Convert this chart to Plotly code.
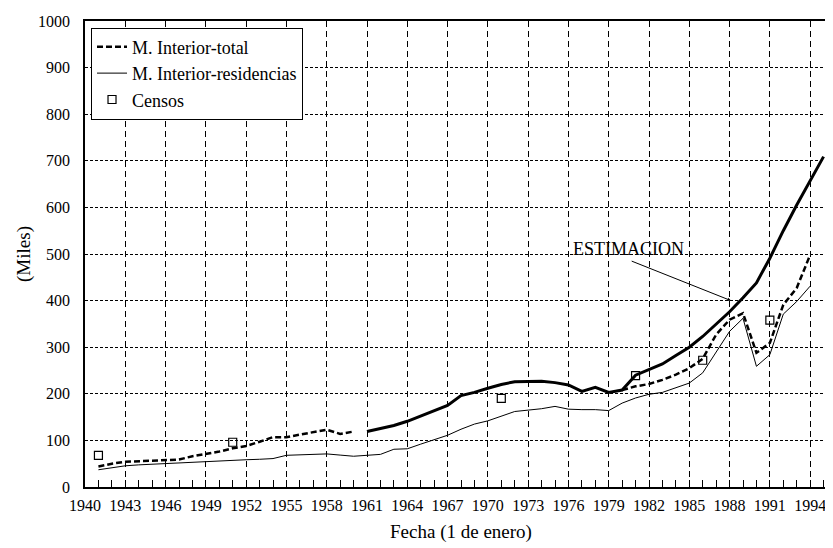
import plotly.graph_objects as go

# ---------------- data ----------------
years = list(range(1941, 1995))
total = [44, 50, 54, 55.5, 57, 57.5, 59, 66, 71, 76,
         83, 88, 97, 107, 107, 112, 117, 123, 114, 119,
         None, None, None, None, None, None, None, None, None, None,
         None, None, None, None, None, None, None, None, None,
         208, 216, 221, 230, 241, 255, 275, 327, 359, 373, 288,
         309, 391, 427, 498]
residencias = [37, 42, 45.5, 47.5, 49, 51, 52.5, 54, 55, 56.5,
               57.5, 58.5, 59.5, 61, 68, 69, 70, 71, 68.5, 66,
               68, 70, 81, 82, 92, 101, 111, 124, 135, 142,
               152, 162, 165, 168, 173, 167, 166, 166, 164, 180,
               191, 199, 203, 213, 223, 245, 290, 334, 362, 259,
               284, 371, 398, 431]
est_years = list(range(1961, 1996))
estimacion = [119, 126, 132, 141, 152, 164, 175, 196, 203, 212,
              220, 226, 227, 227, 224, 219, 205, 214, 203, 208,
              240, 252, 264, 282, 300, 323, 349, 376, 406, 438,
              491, 550, 605, 657, 709]
censo_years = [1941, 1951, 1971, 1981, 1986, 1991]
censos = [68, 96, 190, 239, 272, 358]

FONT = "Liberation Serif"

fig = go.Figure()
fig.add_trace(go.Scatter(x=years, y=total, mode="lines", name="M. Interior-total",
                         line=dict(color="black", width=2.5, dash="6px,3px"),
                         connectgaps=False))
fig.add_trace(go.Scatter(x=years, y=residencias, mode="lines", name="M. Interior-residencias",
                         line=dict(color="black", width=1)))
fig.add_trace(go.Scatter(x=censo_years, y=censos, mode="markers", name="Censos",
                         marker=dict(symbol="square-open", size=8, color="black",
                                     line=dict(width=1.2, color="black"))))
fig.add_trace(go.Scatter(x=est_years, y=estimacion, mode="lines", name="Estimación",
                         showlegend=False, line=dict(color="black", width=3)))

fig.add_annotation(x=1980.5, y=511, xref="x", yref="y", text="ESTIMACION",
                   showarrow=False, font=dict(family=FONT, size=18, color="black"))
fig.add_annotation(x=1988.1, y=400, ax=1980.6, ay=486, xref="x", yref="y",
                   axref="x", ayref="y", text="", showarrow=True,
                   arrowhead=2, arrowsize=0.7, arrowwidth=1, arrowcolor="black")

fig.update_layout(
    width=833, height=548,
    margin=dict(l=77, r=2, t=13, b=69),
    plot_bgcolor="white", paper_bgcolor="white",
    font=dict(family=FONT, size=16, color="black"),
    showlegend=True,
    legend=dict(x=0.008, y=0.986, xanchor="left", yanchor="top",
                bgcolor="white", bordercolor="black", borderwidth=1,
                font=dict(family=FONT, size=18, color="black"),
                tracegroupgap=0, itemwidth=30),
)
fig.update_xaxes(range=[1940, 1996], tick0=1940, dtick=3,
                 ticks="inside", ticklen=7, tickcolor="black", tickwidth=1,
                 showgrid=True, gridcolor="black", gridwidth=1, griddash="6px,4px",
                 showline=True, linecolor="black", linewidth=1.5, mirror=True,
                 zeroline=False, ticklabelstandoff=3,
                 tickfont=dict(family=FONT, size=16),
                 minor=dict(tick0=1940, dtick=1, ticks="inside", ticklen=7,
                            tickcolor="black", showgrid=False),
                 title=dict(text="Fecha (1 de enero)", standoff=12,
                            font=dict(family=FONT, size=19)))
fig.update_yaxes(range=[0, 1000], tick0=0, dtick=100, ticks="",
                 showgrid=True, gridcolor="black", gridwidth=1, griddash="3px,2px",
                 showline=True, linecolor="black", linewidth=1.5, mirror=True,
                 zeroline=False, ticklabelstandoff=10,
                 tickfont=dict(family=FONT, size=16),
                 title=dict(text="(Miles)", standoff=2,
                            font=dict(family=FONT, size=19)))

fig.write_html("out.html")
